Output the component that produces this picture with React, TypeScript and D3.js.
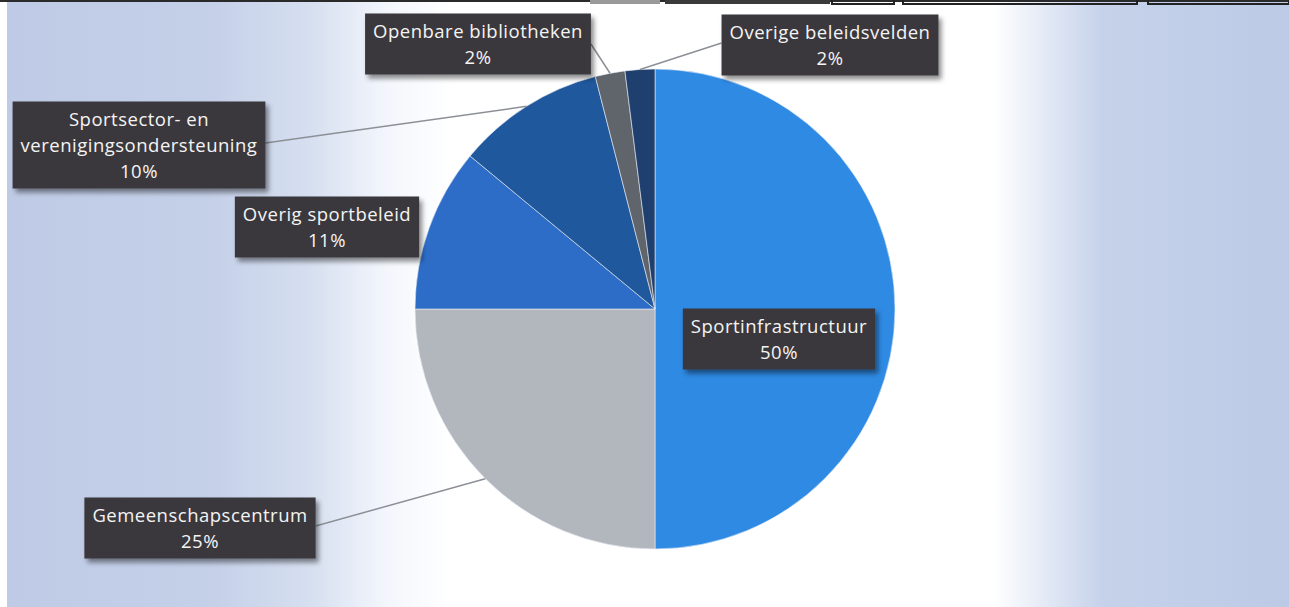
import React, { useEffect, useRef } from "react";
import * as d3 from "d3";

const categories = [
  "Sportinfrastructuur",
  "Gemeenschapscentrum",
  "Overig sportbeleid",
  "Sportsector- en verenigingsondersteuning",
  "Openbare bibliotheken",
  "Overige beleidsvelden",
];
const values = [50, 25, 11, 10, 2, 2];
const percentLabels = ["50%", "25%", "11%", "10%", "2%", "2%"];
const labelLines = [
  ["Sportinfrastructuur", "50%"],
  ["Gemeenschapscentrum", "25%"],
  ["Overig sportbeleid", "11%"],
  ["Sportsector- en", "verenigingsondersteuning", "10%"],
  ["Openbare bibliotheken", "2%"],
  ["Overige beleidsvelden", "2%"],
];
const colors = ["#2f8ae4", "#b2b6bd", "#2d6dc7", "#1f589c", "#60646b", "#1f3f6e"];

// layout (box centers)
const boxCenters: [number, number][] = [
  [779, 339],
  [200, 528],
  [327, 227],
  [139, 145],
  [478, 44],
  [830, 45],
];
const leaderSide: (string | null)[] = [null, "right", null, "right", "right", "left"];

const W = 1289;
const H = 607;

export default function App() {
  const ref = useRef<SVGSVGElement>(null);

  useEffect(() => {
    const svg = d3.select(ref.current);
    svg.selectAll("*").remove();

    const defs = svg.append("defs");
    const lg0 = defs
      .append("linearGradient")
      .attr("id", "bg")
      .attr("gradientUnits", "userSpaceOnUse")
      .attr("x1", 0)
      .attr("y1", 0)
      .attr("x2", W)
      .attr("y2", 0);
    const stops: [number, string][] = [
      [0, "#bfcbe6"],
      [0.16, "#c4cfe8"],
      [0.24, "#d6dff0"],
      [0.3, "#f3f6fc"],
      [0.35, "#ffffff"],
      [0.77, "#ffffff"],
      [0.81, "#e4eaf6"],
      [0.855, "#c6d2ea"],
      [1, "#bccae6"],
    ];
    stops.forEach(([o, c]) => lg0.append("stop").attr("offset", o).attr("stop-color", c));

    const f = defs.append("filter").attr("id", "shadow").attr("x", "-10%").attr("y", "-20%").attr("width", "125%").attr("height", "150%");
    f.append("feDropShadow").attr("dx", 3).attr("dy", 4).attr("stdDeviation", 2.5).attr("flood-color", "#000").attr("flood-opacity", 0.45);

    const pf = defs.append("filter").attr("id", "halo").attr("x", "-10%").attr("y", "-10%").attr("width", "120%").attr("height", "120%");
    pf.append("feDropShadow").attr("dx", 0).attr("dy", 0).attr("stdDeviation", 3).attr("flood-color", "#ffffff").attr("flood-opacity", 0.9);

    svg.append("rect").attr("width", W).attr("height", H).attr("fill", "url(#bg)");
    svg.append("rect").attr("x", 0).attr("y", 0).attr("width", 7).attr("height", H).attr("fill", "#ffffff");

    // top strip (cropped table borders)
    const top = svg.append("g");
    top.append("rect").attr("x", 0).attr("y", 0).attr("width", W).attr("height", 2).attr("fill", "#2a2a2a");
    top.append("rect").attr("x", 590).attr("y", 0).attr("width", 70).attr("height", 4).attr("fill", "#9a9a9a");
    top.append("rect").attr("x", 665).attr("y", 0).attr("width", 165).attr("height", 4).attr("fill", "#3a3a3a");
    [[832, 62], [903, 234], [1148, 141]].forEach(([x, w]) => {
      top.append("rect").attr("x", x).attr("y", -5).attr("width", w).attr("height", 9).attr("fill", "none").attr("stroke", "#222").attr("stroke-width", 2);
    });

    const cx = 655;
    const cy = 309;
    const r = 240;

    const pie = d3.pie<number>().sort(null).value((d) => d)(values);
    const arc = d3.arc<d3.PieArcDatum<number>>().innerRadius(0).outerRadius(r);

    const g = svg.append("g").attr("transform", `translate(${cx},${cy})`);
    g.append("circle").attr("r", r).attr("fill", "#fff").attr("filter", "url(#halo)");
    g.selectAll("path.slice")
      .data(pie)
      .enter()
      .append("path")
      .attr("class", "slice")
      .attr("d", arc)
      .attr("fill", (_, i) => colors[i])
      .attr("stroke", "#e8edf5")
      .attr("stroke-width", 0.6);

    // labels
    const lineH = 26;
    const fontSize = 18.5;
    const labels = svg.append("g");
    pie.forEach((p, i) => {
      const [bx, by] = boxCenters[i];
      const lines = labelLines[i];
      const lg = labels.append("g");
      const rect = lg.append("rect").attr("fill", "#3a393c").attr("filter", "url(#shadow)");
      const n = lines.length;
      const text = lg
        .append("text")
        .attr("text-anchor", "middle")
        .attr("font-family", "'Open Sans', 'Noto Sans', sans-serif")
        .attr("font-size", fontSize)
        .attr("letter-spacing", 0.5)
        .attr("fill", "#f4f4f4");
      const tspans: SVGTSpanElement[] = [];
      lines.forEach((t, k) => {
        const ty = by + (k - (n - 1) / 2) * lineH + 6.5;
        const ts = text.append("tspan").attr("x", bx).attr("y", ty).text(t);
        tspans.push(ts.node() as SVGTSpanElement);
      });
      const tw = d3.max(tspans, (t) => t.getComputedTextLength()) || 100;
      const bw = tw + 16;
      const bh = n * lineH + 9;
      rect.attr("x", bx - bw / 2).attr("y", by - bh / 2).attr("width", bw).attr("height", bh);

      const side = leaderSide[i];
      if (side) {
        const mid = (p.startAngle + p.endAngle) / 2;
        const ex = cx + r * Math.sin(mid);
        const ey = cy - r * Math.cos(mid);
        const sx = side === "right" ? bx + bw / 2 : bx - bw / 2;
        const sy0 = i === 4 ? by : by - 2;
        labels
          .insert("line", ":first-child")
          .attr("x1", sx)
          .attr("y1", sy0)
          .attr("x2", ex)
          .attr("y2", ey)
          .attr("stroke", "#8c9096")
          .attr("stroke-width", 1.5);
      }
    });
  }, []);

  return (
    <svg
      ref={ref}
      width={W}
      height={H}
      style={{ position: "absolute", left: 0, top: 0, display: "block" }}
      aria-label={categories.join(", ") + " " + percentLabels.join(" ")}
    />
  );
}
